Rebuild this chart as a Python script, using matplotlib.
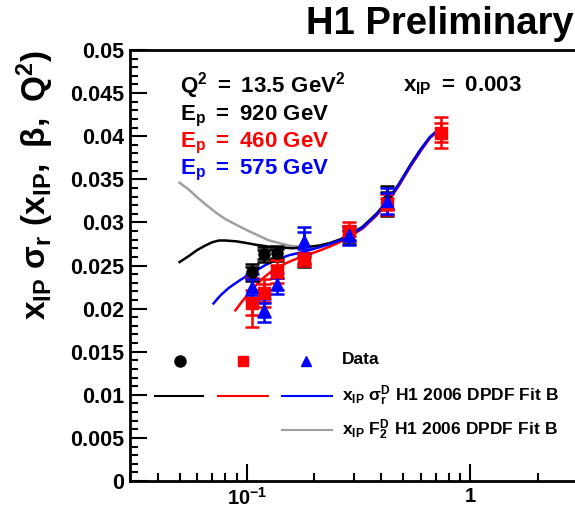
import matplotlib
matplotlib.use("Agg")
import matplotlib.pyplot as plt
from matplotlib.ticker import LogLocator, MultipleLocator, FormatStrFormatter, NullFormatter

plt.rcParams["font.family"] = ["Liberation Sans", "DejaVu Sans"]
plt.rcParams["font.weight"] = "bold"
plt.rcParams["mathtext.fontset"] = "custom"
plt.rcParams["mathtext.rm"] = "Liberation Sans:bold"
plt.rcParams["mathtext.it"] = "Liberation Sans:bold"
plt.rcParams["mathtext.bf"] = "Liberation Sans:bold"

# data points (beta, x_IP sigma_r, total error, stat error)
beta_920 = [0.105, 0.119, 0.136, 0.18, 0.286, 0.423]
val_920 = [0.0242, 0.0263, 0.0264, 0.0256, 0.0285, 0.0325]
err_920 = [0.0010, 0.0009, 0.0009, 0.0008, 0.0010, 0.0017]
stat_920 = [0.0006, 0.0005, 0.0005, 0.0004, 0.0005, 0.0010]

beta_460 = [0.105, 0.119, 0.136, 0.18, 0.286, 0.423, 0.741]
val_460 = [0.0207, 0.0218, 0.0243, 0.0257, 0.0290, 0.0321, 0.0404]
err_460 = [0.0028, 0.0016, 0.0013, 0.0007, 0.0011, 0.0012, 0.0018]
stat_460 = [0.0015, 0.0010, 0.0008, 0.0004, 0.0006, 0.0007, 0.0011]

beta_575 = [0.105, 0.119, 0.136, 0.18, 0.286, 0.423]
val_575 = [0.0225, 0.0198, 0.0229, 0.0279, 0.0285, 0.0325]
err_575 = [0.0015, 0.0013, 0.0012, 0.0016, 0.0011, 0.0015]
stat_575 = [0.0009, 0.0008, 0.0007, 0.0010, 0.0006, 0.0009]

# fit curves
fit_beta_920 = [0.050, 0.055, 0.060, 0.065, 0.070, 0.075, 0.080, 0.090, 0.100, 0.110, 0.125,
                0.140, 0.160, 0.18, 0.21, 0.235, 0.26, 0.286, 0.33, 0.38, 0.423, 0.48, 0.54,
                0.60, 0.66, 0.71, 0.745, 0.78]
fit_920 = [0.0254, 0.0261, 0.0268, 0.0273, 0.0277, 0.0279, 0.0279, 0.0278, 0.0276, 0.0274, 0.0272,
           0.0271, 0.0270, 0.0271, 0.0273, 0.0276, 0.0280, 0.0285, 0.0295, 0.0310, 0.0324, 0.0345,
           0.0367, 0.0385, 0.0399, 0.0406, 0.0409, 0.0404]

fit_beta_f2 = [0.050, 0.055, 0.060, 0.066, 0.073, 0.080, 0.090, 0.100, 0.112, 0.126, 0.140,
               0.155, 0.170, 0.19, 0.21, 0.235, 0.26, 0.286, 0.33, 0.38, 0.423, 0.48, 0.54,
               0.60, 0.66, 0.71, 0.745, 0.78]
fit_f2 = [0.0346, 0.0338, 0.0329, 0.0320, 0.0311, 0.0304, 0.0297, 0.0291, 0.0285, 0.0279, 0.0276,
          0.0273, 0.0272, 0.0272, 0.0273, 0.0276, 0.0280, 0.0285, 0.0295, 0.0310, 0.0324, 0.0345,
          0.0367, 0.0385, 0.0399, 0.0406, 0.0409, 0.0404]

fit_beta_575 = [0.0709, 0.076, 0.083, 0.092, 0.100, 0.110, 0.120, 0.136, 0.155, 0.18, 0.21,
                0.235, 0.26, 0.286, 0.33, 0.38, 0.423, 0.48, 0.54, 0.60, 0.66, 0.71, 0.745, 0.78]
fit_575 = [0.0206, 0.0215, 0.0224, 0.0232, 0.0238, 0.0244, 0.0250, 0.0257, 0.0262, 0.0266, 0.0271,
           0.0275, 0.0279, 0.0284, 0.0294, 0.0309, 0.0323, 0.0344, 0.0366, 0.0384, 0.0399, 0.0406,
           0.0409, 0.0404]

fit_beta_460 = [0.0889, 0.095, 0.100, 0.108, 0.119, 0.130, 0.145, 0.160, 0.18, 0.21, 0.235,
                0.26, 0.286, 0.33, 0.38, 0.423, 0.48, 0.54, 0.60, 0.66, 0.71, 0.745, 0.78]
fit_460 = [0.0198, 0.0208, 0.0215, 0.0225, 0.0236, 0.0244, 0.0251, 0.0256, 0.0261, 0.0267, 0.0272,
           0.0277, 0.0283, 0.0293, 0.0308, 0.0322, 0.0343, 0.0365, 0.0383, 0.0398, 0.0405, 0.0408,
           0.0403]

W, H = 575, 512
fig = plt.figure(figsize=(W / 100, H / 100), dpi=100)
ax = fig.add_axes([130 / W, (H - 481) / H, 447 / W, 431 / H])

ax.plot(fit_beta_f2, fit_f2, color="#a0a0a0", lw=1.8)
ax.plot(fit_beta_920, fit_920, color="black", lw=1.8)
ax.plot(fit_beta_460, fit_460, color="red", lw=1.8)
ax.plot(fit_beta_575, fit_575, color="blue", lw=1.8)

for b, v, e, s, c, m, ms in [(beta_920, val_920, err_920, stat_920, "black", "o", 8),
                             (beta_460, val_460, err_460, stat_460, "red", "s", 8),
                             (beta_575, val_575, err_575, stat_575, "blue", "^", 8)]:
    ax.errorbar(b, v, yerr=e, fmt="none", ecolor=c, elinewidth=1.8, capsize=5, capthick=1.8)
    ax.errorbar(b, v, yerr=s, fmt=m, color=c, ms=ms, elinewidth=1.8, capsize=5, capthick=1.8)

ax.set_xscale("log")
ax.set_xlim(0.03, 3.0)
ax.set_ylim(0, 0.05)
ax.set_xticks([0.1, 1])
ax.set_xticklabels([r"$\mathregular{10^{-1}}$", "1"])
ax.xaxis.set_minor_locator(LogLocator(base=10, subs=range(2, 10)))
ax.xaxis.set_minor_formatter(NullFormatter())
ax.yaxis.set_major_locator(MultipleLocator(0.005))
ax.yaxis.set_minor_locator(MultipleLocator(0.001))
ax.yaxis.set_major_formatter(FormatStrFormatter("%g"))
ax.tick_params(which="both", direction="in", width=1.5, labelsize=15.5)
ax.tick_params(which="major", length=12, pad=4)
ax.tick_params(which="minor", length=6)
ax.tick_params(axis="x", pad=4, labelsize=14.5)
for sp in ax.spines.values():
    sp.set_linewidth(2)
ax.spines["right"].set_visible(False)

fig.text(35 / W, 1 - 185 / H, r"$\mathregular{x_{IP}\ \sigma_r\ (x_{IP},\ \beta,\ Q^2)}$",
         rotation=90, ha="center", va="center", fontsize=24)
fig.text(574 / W, 1 - 24 / H, "H1 Preliminary", ha="right", va="center", fontsize=27.5)

fig.text(180 / W, 1 - 86 / H, r"$\mathregular{Q^2\ =\ 13.5\ GeV^2}$", ha="left", va="center", fontsize=16)
fig.text(403 / W, 1 - 86 / H, r"$\mathregular{x_{IP}\ =\ 0.003}$", ha="left", va="center", fontsize=16)
fig.text(180 / W, 1 - 116 / H, r"$\mathregular{E_p\ =\ 920\ GeV}$", ha="left", va="center", fontsize=16, color="black")
fig.text(180 / W, 1 - 143 / H, r"$\mathregular{E_p\ =\ 460\ GeV}$", ha="left", va="center", fontsize=16, color="red")
fig.text(180 / W, 1 - 170 / H, r"$\mathregular{E_p\ =\ 575\ GeV}$", ha="left", va="center", fontsize=16, color="blue")

# hand-made legend
def fx(px):
    return (px - 130) / 447

def fy(py):
    return (481 - py) / 431

ax.plot([fx(180)], [fy(361)], "o", color="black", ms=8, transform=ax.transAxes, clip_on=False)
ax.plot([fx(243)], [fy(361)], "s", color="red", ms=7, transform=ax.transAxes, clip_on=False)
ax.plot([fx(306)], [fy(361)], "^", color="blue", ms=7, transform=ax.transAxes, clip_on=False)
ax.text(fx(342), fy(360), "Data", transform=ax.transAxes, va="center", fontsize=12.5)
ax.plot([fx(155), fx(203)], [fy(396)] * 2, color="black", lw=1.5, transform=ax.transAxes)
ax.plot([fx(218), fx(268)], [fy(396)] * 2, color="red", lw=1.5, transform=ax.transAxes)
ax.plot([fx(282), fx(332)], [fy(396)] * 2, color="blue", lw=1.5, transform=ax.transAxes)
ax.text(fx(342), fy(396), r"$\mathregular{x_{IP}\ \sigma_r^D\ H1\ 2006\ DPDF\ Fit\ B}$",
        transform=ax.transAxes, va="center", fontsize=12.5)
ax.plot([fx(282), fx(332)], [fy(430)] * 2, color="#a0a0a0", lw=1.5, transform=ax.transAxes)
ax.text(fx(342), fy(430), r"$\mathregular{x_{IP}\ F_2^D\ H1\ 2006\ DPDF\ Fit\ B}$",
        transform=ax.transAxes, va="center", fontsize=12.5)

fig.savefig("out.png", dpi=100)
